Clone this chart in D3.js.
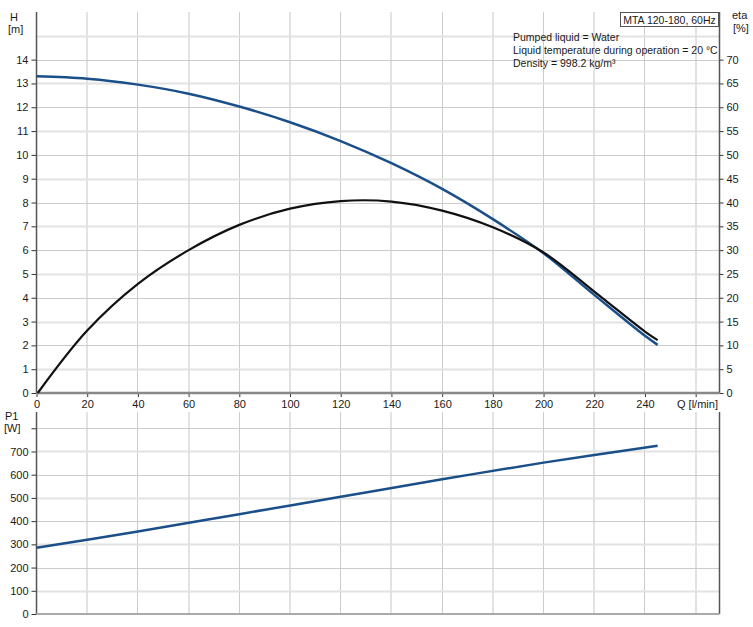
<!DOCTYPE html>
<html><head><meta charset="utf-8">
<script src="https://cdn.jsdelivr.net/npm/d3@7/dist/d3.min.js"></script>
<style>body{margin:0;background:#fff;} text{font-family:"Liberation Sans",Arial,sans-serif;font-size:11px;fill:#1a1a1a;}</style>
</head><body><svg id="c" width="753" height="627"></svg>
<script>
const qTicks = [0,20,40,60,80,100,120,140,160,180,200,220,240];
const hTicks = [0,1,2,3,4,5,6,7,8,9,10,11,12,13,14];
const etaTicks = [0,5,10,15,20,25,30,35,40,45,50,55,60,65,70];
const pTicks = [0,100,200,300,400,500,600,700];
const headQ = [0,20,40,60,80,100,120,140,160,180,200,220,240,245];
const headH = [13.3,13.2,12.95,12.57,12.03,11.37,10.58,9.65,8.57,7.30,5.87,4.12,2.4,2.02];
const etaQ = [0.5,20,40,60,80,100,120,140,160,180,200,220,240,245];
const etaV = [0,13.1,22.9,30.0,35.3,38.7,40.3,40.2,38.3,34.8,29.5,21.3,12.9,11.1];
const powQ = [0,40,80,120,160,200,245];
const powP = [285,355,430,505,580,652,725];
const legendTitle = "MTA 120-180, 60Hz";
const infoLines = ["Pumped liquid = Water","Liquid temperature during operation = 20 °C","Density = 998.2 kg/m³"];

const svg = d3.select("#c");
const L = 36.5, R = 719.5;
const x = d3.scaleLinear().domain([0,269.4]).range([L,R]);
const yH = d3.scaleLinear().domain([0,16]).range([393,12]);
const yE = d3.scaleLinear().domain([0,80]).range([393,12]);
const yP = d3.scaleLinear().domain([0,870]).range([614,412]);

function grid(y0,y1,yScale,vals){
  const g = svg.append("g");
  d3.range(20,270,20).forEach(q=>{
    g.append("line").attr("x1",x(q)).attr("x2",x(q)).attr("y1",y0).attr("y2",y1)
     .attr("stroke",(q/20)%2? "#e2e2e2":"#cccccc").attr("stroke-width",(q/20)%2?2:1).attr("shape-rendering","crispEdges");
  });
  vals.forEach((v,i)=>{
    g.append("line").attr("x1",L).attr("x2",R).attr("y1",Math.round(yScale(v))+0.5).attr("y2",Math.round(yScale(v))+0.5)
     .attr("stroke",i%2? "#cccccc":"#e2e2e2").attr("stroke-width",i%2?1:2);
  });
}
grid(12,393,yH,d3.range(1,16));
grid(412,614,yP,d3.range(100,900,100));

// top chart axes
const gl = svg.append("g").attr("transform",`translate(${L},0)`).call(d3.axisLeft(yH).tickValues(hTicks).tickSize(5).tickPadding(3).tickFormat(d3.format("d")));
gl.select(".domain").remove();
gl.selectAll(".tick line").attr("stroke","#333");
svg.append("line").attr("x1",L).attr("x2",L).attr("y1",12).attr("y2",393).attr("stroke","#555").attr("stroke-width",1.5);
const gr = svg.append("g").attr("transform",`translate(${R},0)`).call(d3.axisRight(yE).tickValues(etaTicks).tickSize(4).tickPadding(3).tickFormat(d3.format("d")));
gr.select(".domain").remove();
gr.selectAll(".tick line").attr("stroke","#333");
svg.append("line").attr("x1",R).attr("x2",R).attr("y1",12).attr("y2",393).attr("stroke","#555").attr("stroke-width",1.5);
const gb = svg.append("g").attr("transform",`translate(0,393)`).call(d3.axisBottom(x).tickValues(qTicks.concat([260])).tickSize(4).tickPadding(3).tickFormat(d=>d===260?"":d));
gb.select(".domain").remove();
gb.selectAll(".tick line").attr("stroke","#333");
svg.append("line").attr("x1",L).attr("x2",R).attr("y1",393).attr("y2",393).attr("stroke","#888").attr("stroke-width",2.5);
svg.selectAll(".tick text").style("font-size","11px");

// bottom chart axes
const gp = svg.append("g").attr("transform",`translate(${L},0)`).call(d3.axisLeft(yP).tickValues(pTicks.concat([800])).tickSize(5).tickPadding(3).tickFormat(d=>d===800?"":d));
gp.select(".domain").remove();
gp.selectAll(".tick line").attr("stroke","#333");
svg.append("line").attr("x1",L).attr("x2",L).attr("y1",412).attr("y2",614).attr("stroke","#555").attr("stroke-width",1.5);
svg.append("line").attr("x1",R).attr("x2",R).attr("y1",412).attr("y2",614).attr("stroke","#555").attr("stroke-width",1.5);
svg.append("line").attr("x1",L).attr("x2",R).attr("y1",614).attr("y2",614).attr("stroke","#aaa").attr("stroke-width",2);

// curves
const lineH = d3.line().x((d,i)=>x(headQ[i])).y(d=>yH(d)).curve(d3.curveCatmullRom.alpha(0.5));
svg.append("path").attr("d",lineH(headH)).attr("fill","none").attr("stroke","#1b4f8a").attr("stroke-width",2.5);
const lineE = d3.line().x((d,i)=>x(etaQ[i])).y(d=>yE(d)).curve(d3.curveCatmullRom.alpha(0.5));
svg.append("path").attr("d",lineE(etaV)).attr("fill","none").attr("stroke","#111").attr("stroke-width",2.2);
const lineP = d3.line().x((d,i)=>x(powQ[i])).y(d=>yP(d)).curve(d3.curveCatmullRom.alpha(0.5));
svg.append("path").attr("d",lineP(powP)).attr("fill","none").attr("stroke","#1b4f8a").attr("stroke-width",2.5);

// labels
function t(s,xx,yy,anchor,fs){const e=svg.append("text").attr("x",xx).attr("y",yy).attr("text-anchor",anchor||"start").text(s); if(fs) e.style("font-size",fs); return e;}
t("H",10,21); t("[m]",8,33);
t("eta",732,19); t("[%]",733,32);
t("P1",5,420); t("[W]",4,432);
t("Q [l/min]",677,408);
// legend box
svg.append("rect").attr("x",620.5).attr("y",12.5).attr("width",98).attr("height",14).attr("fill","#fff").attr("stroke","#555");
t(legendTitle,669.5,24,"middle","10.5px");
infoLines.forEach((s,i)=>t(s,513,41+i*13,"start","10.5px"));
</script></body></html>
